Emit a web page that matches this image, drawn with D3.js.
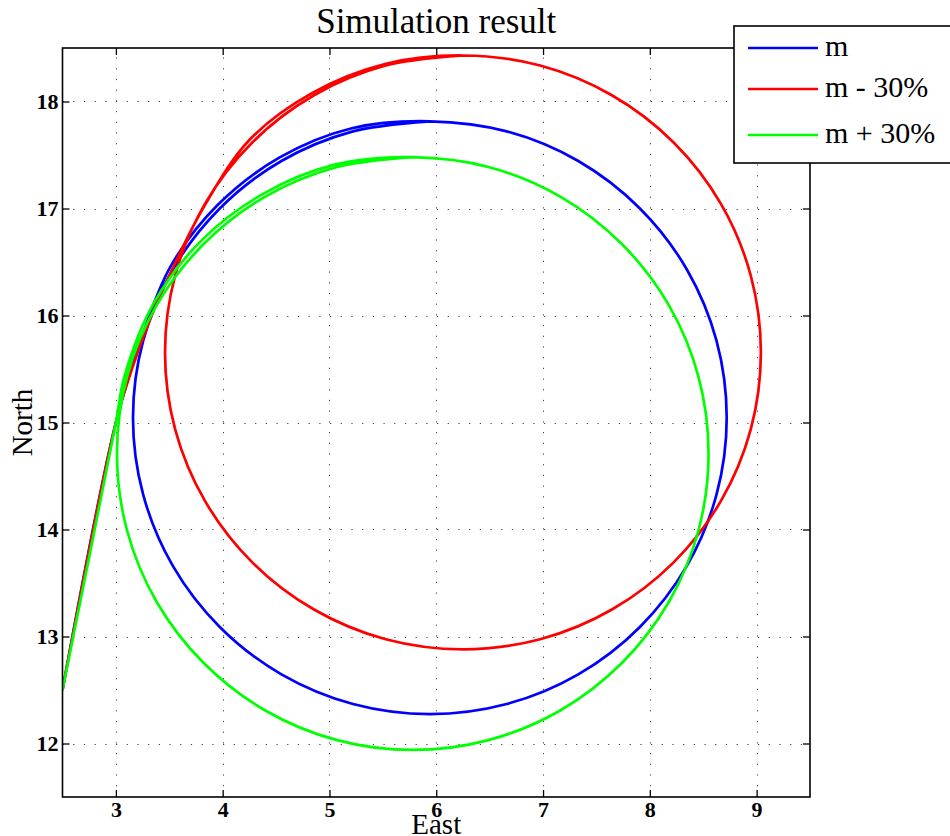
<!DOCTYPE html>
<html lang="en">

<head>
    <meta charset="UTF-8">
    <script src="https://cdn.jsdelivr.net/npm/d3@7"></script>
    <title>Simulation result</title>
    <style>
        body { margin: 0; background: #fff; }
        text { font-family: "Liberation Serif", serif; }
    </style>
</head>

<body>
    <script>
        // trajectories: [east, north]
        var trackM = [
            [2.5, 12.5], [3.0, 15.0], [3.235, 15.775], [3.51, 16.455], [3.95, 17.03], [4.53, 17.475], [5.21, 17.75],
            [5.94, 17.815], [6.66, 17.721], [7.33, 17.444], [7.905, 17.003], [8.347, 16.43], [8.625, 15.762],
            [8.72, 15.045], [8.625, 14.328], [8.347, 13.66], [7.905, 13.087], [7.33, 12.646], [6.66, 12.369],
            [5.94, 12.275], [5.22, 12.369], [4.55, 12.646], [3.975, 13.087], [3.533, 13.66], [3.255, 14.328],
            [3.16, 15.045], [3.255, 15.762], [3.533, 16.43], [3.975, 17.003], [4.55, 17.444], [5.22, 17.721],
            [5.94, 17.815]
        ];
        var trackMinus = [
            [2.5, 12.5], [3.0, 15.0], [3.15, 15.5], [3.335, 16.0], [3.56, 16.5], [3.815, 17.0], [4.25, 17.64],
            [4.84, 18.08], [5.52, 18.35], [6.25, 18.43], [6.973, 18.336], [7.645, 18.058], [8.223, 17.617],
            [8.666, 17.043], [8.945, 16.374], [9.04, 15.655], [8.945, 14.936], [8.666, 14.267], [8.223, 13.693],
            [7.645, 13.252], [6.973, 12.974], [6.25, 12.88], [5.527, 12.974], [4.855, 13.252], [4.277, 13.693],
            [3.834, 14.267], [3.555, 14.936], [3.46, 15.655], [3.555, 16.374], [3.834, 17.043], [4.277, 17.617],
            [4.855, 18.058], [5.527, 18.336], [6.25, 18.43]
        ];
        var trackPlus = [
            [2.5, 12.5], [3.0, 15.0], [3.08, 15.43], [3.355, 16.115], [3.795, 16.695], [4.375, 17.135], [5.05, 17.41],
            [5.78, 17.48], [6.497, 17.386], [7.165, 17.109], [7.738, 16.668], [8.179, 16.095], [8.456, 15.427],
            [8.55, 14.71], [8.456, 13.993], [8.179, 13.325], [7.738, 12.752], [7.165, 12.311], [6.497, 12.034],
            [5.78, 11.94], [5.063, 12.034], [4.395, 12.311], [3.822, 12.752], [3.381, 13.325], [3.104, 13.993],
            [3.01, 14.71], [3.104, 15.427], [3.381, 16.095], [3.822, 16.668], [4.395, 17.109], [5.063, 17.386],
            [5.78, 17.48]
        ];
        var seriesNames = ["m", "m - 30%", "m + 30%"];
        var seriesColors = ["#0000ff", "#ff0000", "#00ff00"];
        var eastTicks = [3, 4, 5, 6, 7, 8, 9];
        var northTicks = [12, 13, 14, 15, 16, 17, 18];

        var width = 950;
        var height = 836;
        var plotL = 62.5, plotR = 810, plotT = 48, plotB = 797;

        var x = d3.scaleLinear().domain([2.5, 9.5]).range([plotL, plotR]);
        var y = d3.scaleLinear().domain([11.5, 18.5]).range([plotB, plotT]);

        var svg = d3.select("body").append("svg").attr("width", width).attr("height", height);

        // dotted grid
        var grid = svg.append("g").attr("stroke", "#444").attr("stroke-width", 1).attr("stroke-dasharray", "1.2,9.5");
        grid.selectAll(".gx").data(eastTicks).enter().append("line")
            .attr("x1", function (d) { return Math.round(x(d)) + 0.5; }).attr("x2", function (d) { return Math.round(x(d)) + 0.5; })
            .attr("y1", plotB).attr("y2", plotT);
        grid.selectAll(".gy").data(northTicks).enter().append("line")
            .attr("y1", function (d) { return Math.round(y(d)) + 0.5; }).attr("y2", function (d) { return Math.round(y(d)) + 0.5; })
            .attr("x1", plotL).attr("x2", plotR);

        // trajectories
        svg.append("clipPath").attr("id", "clip").append("rect")
            .attr("x", plotL).attr("y", plotT).attr("width", plotR - plotL).attr("height", plotB - plotT);
        var line = d3.line().x(function (d) { return x(d[0]); }).y(function (d) { return y(d[1]); })
            .curve(d3.curveCatmullRom.alpha(0.5));
        var tracks = [trackM, trackMinus, trackPlus];
        svg.append("g").attr("clip-path", "url(#clip)").selectAll("path").data(tracks).enter().append("path")
            .attr("d", line).attr("fill", "none").attr("stroke-width", 2.7)
            .attr("stroke", function (d, i) { return seriesColors[i]; });

        // axes with inward ticks on all sides
        function styleAxis(g) {
            g.select(".domain").remove();
            g.selectAll(".tick line").attr("stroke", "#000").attr("stroke-width", 1.3);
            g.selectAll("text").style("font-family", "Liberation Serif, serif").style("font-weight", "bold")
                .style("font-size", "22px").attr("fill", "#000");
        }
        svg.append("g").attr("transform", "translate(0," + plotB + ")")
            .call(d3.axisBottom(x).tickValues(eastTicks).tickSizeInner(-7).tickSizeOuter(0).tickPadding(4).tickFormat(d3.format("d")))
            .call(styleAxis);
        svg.append("g").attr("transform", "translate(0," + plotT + ")")
            .call(d3.axisTop(x).tickValues(eastTicks).tickSizeInner(-7).tickSizeOuter(0).tickFormat(""))
            .call(styleAxis);
        svg.append("g").attr("transform", "translate(" + plotL + ",0)")
            .call(d3.axisLeft(y).tickValues(northTicks).tickSizeInner(-7).tickSizeOuter(0).tickPadding(4).tickFormat(d3.format("d")))
            .call(styleAxis);
        svg.append("g").attr("transform", "translate(" + plotR + ",0)")
            .call(d3.axisRight(y).tickValues(northTicks).tickSizeInner(-7).tickSizeOuter(0).tickFormat(""))
            .call(styleAxis);

        svg.append("rect").attr("x", plotL).attr("y", plotT).attr("width", plotR - plotL).attr("height", plotB - plotT)
            .attr("fill", "none").attr("stroke", "#000").attr("stroke-width", 1.6);

        // titles
        svg.append("text").attr("x", (plotL + plotR) / 2).attr("y", 33).attr("text-anchor", "middle")
            .style("font-size", "35px").text("Simulation result");
        svg.append("text").attr("x", (plotL + plotR) / 2).attr("y", 834).attr("text-anchor", "middle")
            .style("font-size", "29px").text("East");
        svg.append("text").attr("transform", "translate(32," + ((plotT + plotB) / 2) + ") rotate(-90)")
            .attr("text-anchor", "middle").style("font-size", "29px").text("North");

        // legend
        var legend = svg.append("g");
        legend.append("rect").attr("x", 734).attr("y", 26).attr("width", 240).attr("height", 137)
            .attr("fill", "#fff").attr("stroke", "#000").attr("stroke-width", 1.6);
        var rows = legend.selectAll(".row").data(seriesNames).enter().append("g")
            .attr("transform", function (d, i) { return "translate(0," + [48, 89, 135][i] + ")"; });
        rows.append("line").attr("x1", 748).attr("x2", 818).attr("y1", 0).attr("y2", 0)
            .attr("stroke-width", 2.7).attr("stroke", function (d, i) { return seriesColors[i]; });
        rows.append("text").attr("x", 825).attr("y", 8).style("font-size", "30px").text(function (d) { return d; });
    </script>
</body>

</html>
